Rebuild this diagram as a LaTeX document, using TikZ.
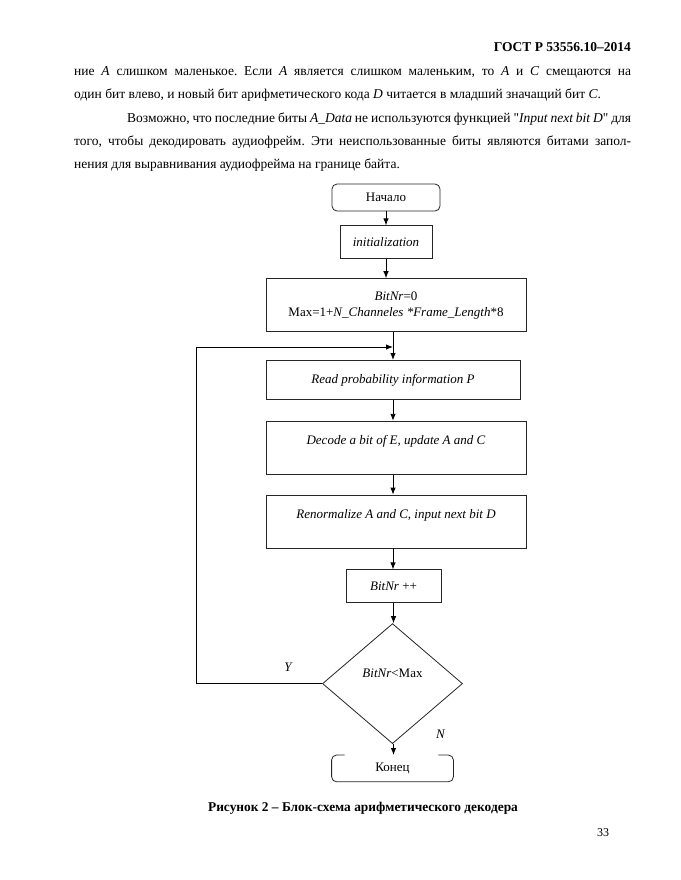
\documentclass[tikz,border=0pt]{standalone}
\usepackage{fontspec}
\setmainfont{Liberation Serif}[Ligatures=TeXOff]
\usetikzlibrary{arrows.meta,positioning,shapes.geometric}
\frenchspacing

\begin{document}
\begin{tikzpicture}[
  x=1pt,y=-1pt,
  >={Latex[length=7pt,width=5.5pt]},
  node distance=20pt,
  every node/.style={inner sep=0pt},
  body/.style={font=\fontsize{13.5}{16}\selectfont,anchor=base west},
  block/.style={draw=black!85,line width=0.8pt,minimum width=260pt,
    minimum height=53pt,align=center,font=\fontsize{13}{16}\selectfont},
  term/.style={block,rounded corners=5pt,minimum width=108pt,minimum height=27pt},
  decision/.style={diamond,draw=black!85,line width=0.8pt,minimum width=140pt,
    minimum height=120pt,inner sep=0pt,font=\fontsize{13}{16}\selectfont},
  lbl/.style={font=\fontsize{13}{15}\selectfont\itshape},
  line/.style={->,line width=0.9pt,draw=black}
]
  \useasboundingbox[fill=white] (0,0) rectangle (680,880);

  % page text
  \node[anchor=base east,font=\fontsize{13.5}{16}\selectfont\bfseries] (gost) at (631,52) {ГОСТ Р 53556.10–2014};
  \node[body] (l1) at (74,76) {\makebox[557pt][s]{ние \textit{A} слишком маленькое. Если \textit{A} является слишком маленьким, то \textit{A} и \textit{C} смещаются на}};
  \node[body] (l2) at (74,99) {один бит влево, и новый бит арифметического кода \textit{D} читается в младший значащий бит \textit{C}.};
  \node[body] (l3) at (127,122) {\makebox[504pt][s]{Возможно, что последние биты \textit{A\_Data} не используются функцией "\textit{Input next bit D}" для}};
  \node[body] (l4) at (74,145) {\makebox[557pt][s]{того, чтобы декодировать аудиофрейм. Эти неиспользованные биты являются битами запол-}};
  \node[body] (l5) at (74,168) {нения для выравнивания аудиофрейма на границе байта.};

  % flowchart
  \node[term] (nach) at (386,197.5) {Начало};
  \node[block,below=14pt of nach,minimum width=92pt,minimum height=33pt] (init) {\textit{initialization}};
  \node[block,below=19pt of init,xshift=10pt] (setup) {\textit{BitNr}=0\\Max=1+\textit{N\_Channeles *Frame\_Length}*8};
  \node[block,below=28pt of setup,xshift=-3pt,minimum width=254pt,minimum height=39pt] (readp) {\textit{Read probability information P}};
  \node[block,below=21pt of readp,xshift=3pt] (decode) {\textit{Decode a bit of E, update A and C}\\\mbox{}};
  \node[block,below=20pt of decode] (renorm) {\textit{Renormalize A and C, input next bit D}\\\mbox{}};
  \node[block,below=21pt of renorm,xshift=-2.5pt,minimum width=95pt,minimum height=33pt] (incr) {\textit{BitNr} ++};
  \node[decision,below=20pt of incr,xshift=-1pt] (test) {\raisebox{6pt}[0pt][0pt]{\textit{BitNr}<Max}};
  \node[term,draw=none,below=11pt of test,minimum width=121pt,minimum height=26pt] (stop) {Конец};
  \draw[line width=0.8pt,draw=black!85,rounded corners=5pt]
    ([xshift=13pt]stop.north west) -- (stop.north west) -- (stop.south west)
    -- (stop.south east) -- (stop.north east) -- ([xshift=-15pt]stop.north east);

  \coordinate (merge) at ([yshift=13pt]readp.north);
  \node[lbl] (ylab) at ([xshift=-34pt,yshift=16pt]test.west) {Y};
  \node[lbl] (nlab) at ([xshift=48pt,yshift=10pt]test.south) {N};

  \draw[line] (nach) -- (init);
  \draw[line] (init) -- (init |- setup.north);
  \draw[line] (setup.south -| readp) -- (readp);
  \draw[line] (readp) -- (readp |- decode.north);
  \draw[line] (decode.south -| readp) -- (readp |- renorm.north);
  \draw[line] (renorm.south -| readp) -- (readp |- incr.north);
  \draw[line] (incr) -- (incr |- test.north);
  \draw[line] (test.south -| incr) -- (incr |- stop.north);
  \draw[line] (test.west) -- ++(-126pt,0) |- (merge);

  % caption
  \node[anchor=base,font=\fontsize{13.4}{16}\selectfont\bfseries] (cap) at (363,811) {Рисунок 2 – Блок-схема арифметического декодера};
  \node[anchor=base,font=\fontsize{12}{14}\selectfont] (page) at (603,836) {33};
\end{tikzpicture}
\end{document}
